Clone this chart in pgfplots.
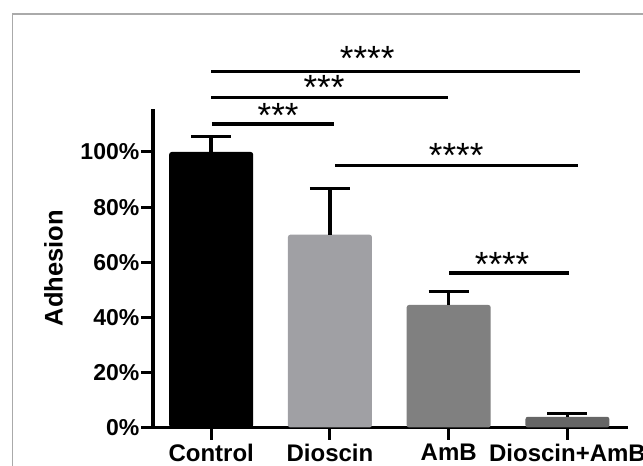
\documentclass[border=0pt]{standalone}
\usepackage{pgfplots}
\pgfplotsset{compat=1.18}
\usepackage{fontspec}
\setmainfont{Liberation Sans}
\definecolor{cD}{RGB}{160,160,164}
\definecolor{cA}{RGB}{128,128,128}
\definecolor{cDA}{RGB}{102,102,102}
\definecolor{frm}{RGB}{170,170,170}
\newcommand{\stars}[1]{\fontsize{35}{35}\selectfont #1}
\begin{document}
\begin{tikzpicture}[x=1pt,y=1pt]
\draw[frm, line width=1.2pt] (12.5,-30) rectangle (700,452);
\begin{axis}[
  at={(153pt,38.5pt)}, anchor=south west,
  scale only axis, width=475pt, height=318.5pt,
  xmin=-0.49, xmax=3.51, ymin=0, ymax=115.6,
  axis x line*=bottom, axis y line*=left,
  axis line style={line width=3.3pt},
  clip=false,
  xtick={0,1,2,3},
  xticklabels={Control,Dioscin,AmB,Dioscin+AmB},
  ytick={0,20,40,60,80,100},
  yticklabels={0\%,20\%,40\%,60\%,80\%,100\%},
  tick align=outside, major tick length=12pt,
  tick style={line width=3pt, black},
  x tick label style={font=\bfseries\fontsize{24}{26}\selectfont, inner sep=2pt, yshift=-2pt},
  y tick label style={font=\bfseries\fontsize{23}{26}\selectfont, inner sep=1.5pt},
  ylabel={Adhesion},
  ylabel style={font=\bfseries\fontsize{25.5}{28}\selectfont, at={(axis description cs:-0.2095,0.5)}, anchor=center},
  ybar, bar width=84pt, bar shift=0pt,
  every axis plot/.append style={draw=none, rounded corners=2.5pt},
  error bars/y dir=plus, error bars/y explicit,
  error bars/error bar style={line width=3.5pt, black, rounded corners=0pt},
  error bars/error mark options={line width=3.5pt, mark size=20pt, black, rotate=90},
]
\addplot[fill=black] coordinates {(0,100) +- (0,5.7)};
\addplot[fill=cD] coordinates {(1,70.0) +- (0,16.7)};
\addplot[fill=cA] coordinates {(2,44.5) +- (0,4.8)};
\addplot[fill=cDA] coordinates {(3,3.9) +- (0,1.2)};

\draw[line width=3.3pt] (axis cs:0,129.1) -- (axis cs:3.107,129.1);
\node[anchor=base] at (axis cs:1.314,129.6) {\stars{****}};
\draw[line width=3.3pt] (axis cs:0,119.7) -- (axis cs:1.996,119.7);
\node[anchor=base] at (axis cs:0.95,119.2) {\stars{***}};
\draw[line width=3.3pt] (axis cs:0.005,110.2) -- (axis cs:1.03,110.2);
\node[anchor=base] at (axis cs:0.564,109.0) {\stars{***}};
\draw[line width=3.3pt] (axis cs:1.044,95.0) -- (axis cs:3.09,95.0);
\node[anchor=base] at (axis cs:2.063,94.5) {\stars{****}};
\draw[line width=3.3pt] (axis cs:2.004,56.1) -- (axis cs:3.015,56.1);
\node[anchor=base] at (axis cs:2.45,54.9) {\stars{****}};
\end{axis}
\pgfresetboundingbox
\path[use as bounding box] (0,0) rectangle (643,466);
\end{tikzpicture}
\end{document}
